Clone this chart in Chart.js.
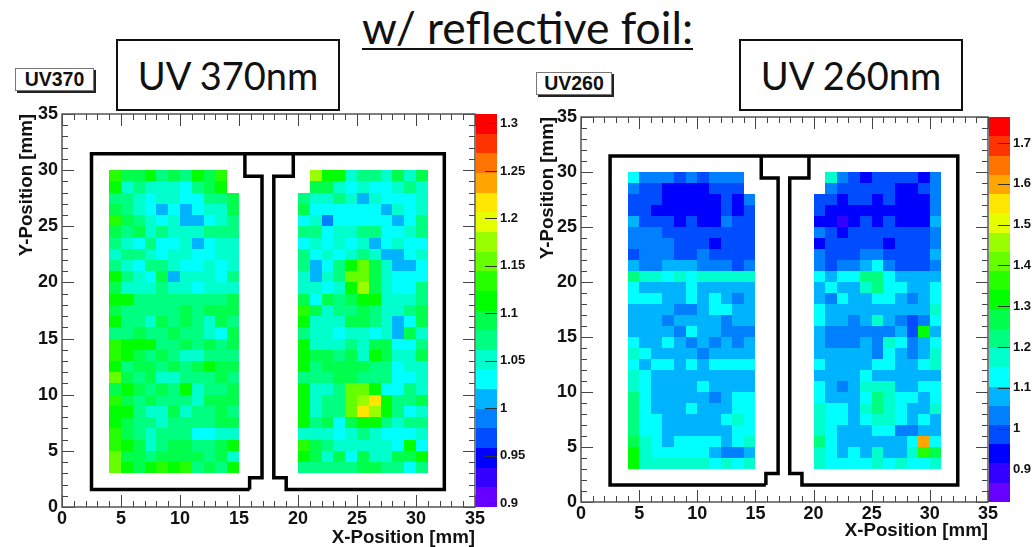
<!DOCTYPE html>
<html>
<head>
<meta charset="utf-8">
<script src="https://cdn.jsdelivr.net/npm/chart.js@4/dist/chart.umd.min.js"></script>
<style>
  html, body { margin: 0; padding: 0; background: #fff; }
  body { position: relative; width: 1033px; height: 547px; overflow: hidden; }
  canvas { position: absolute; }
  .main { position: absolute; left: 362px; top: 0; font: 44.4px Lato, sans-serif; color: #111; text-decoration: underline; text-decoration-thickness: 2px; text-underline-offset: 4px; white-space: nowrap; }
  .box { position: absolute; box-sizing: border-box; width: 224px; height: 72px; top: 39px; border: 2px solid #111; background: #fff; font: 38px/68px Lato, sans-serif; text-align: center; color: #111; }
  .tag { position: absolute; box-sizing: border-box; border: 1px solid #777; box-shadow: 2px 2px 0 #222; background: #fff; font: bold 19.5px/21px "Liberation Sans", sans-serif; text-align: center; color: #111; }
</style>
</head>
<body>
<canvas id="chart370" width="530" height="449" style="left:0;top:100px"></canvas>
<canvas id="chart260" width="503" height="444" style="left:530px;top:103px"></canvas>
<div class="main">w/ reflective foil:</div>
<div class="box" style="left:116px">UV 370nm</div>
<div class="box" style="left:739px">UV 260nm</div>
<div class="tag" style="left:15px;top:68px;width:79px;height:23px">UV370</div>
<div class="tag" style="left:536px;top:72px;width:76px;height:23px">UV260</div>
<script>
// ROOT palette, 20 contour bands, bottom to top
const palette = ['#6600ff','#3300ff','#0000ff','#004cff','#0080ff','#00b3ff','#00ffff','#00ffcc','#00ff80','#00ff4c',
  '#00ff00','#26ff00','#66ff00','#99ff00','#e6ff00','#ffe600','#ffa600','#ff7300','#ff3300','#ff0000'];

const ticks370 = [0.9, 0.95, 1, 1.05, 1.1, 1.15, 1.2, 1.25, 1.3];
const ticks260 = [0.9, 1, 1.1, 1.2, 1.3, 1.4, 1.5, 1.6, 1.7];

// detector outline in mm
const outlineX = [15.9, 2.5, 2.5, 32.4, 32.4, 19, 19, 17.95, 17.95, 19.6, 19.6, 15.5, 15.5, 16.95, 16.95, 15.9, 15.9];
const outlineY = [1.55, 1.55, 31.45, 31.45, 1.55, 1.55, 2.6, 2.6, 29.45, 29.45, 31.45, 31.45, 29.45, 29.45, 2.6, 2.6, 1.55];

// rows run from y=29 (top) down to y=3, columns x=4..14
const uv370Left = [
  [1.13,1.09,1.09,1.11,1.07,1.09,1.07,1.11,1.09,1.13,null],
  [1.11,1.05,1.07,1.05,1.05,1.05,1.03,1.07,1.09,1.11,null],
  [1.07,1.07,1.05,1.03,1.05,1.05,1.03,1.03,1.07,1.07,1.09],
  [1.09,1.07,1.05,1.03,1.01,1.03,1.01,1.03,1.05,1.05,1.09],
  [1.13,1.09,1.07,1.05,1.03,1.05,1.01,1.01,1.03,1.05,1.07],
  [1.09,1.07,1.09,1.05,1.07,1.05,1.05,1.05,1.07,1.07,1.07],
  [1.07,1.05,1.03,1.07,1.03,1.03,1.05,1.01,1.03,1.05,1.05],
  [1.05,1.07,1.07,1.05,1.03,1.05,1.05,1.03,1.03,1.05,1.05],
  [1.07,1.05,1.03,1.07,1.07,1.05,1.03,1.03,1.05,1.03,1.05],
  [1.11,1.07,1.05,1.03,1.09,1.01,1.05,1.05,1.05,1.03,1.07],
  [1.09,1.05,1.05,1.05,1.07,1.05,1.05,1.03,1.05,1.05,1.05],
  [1.11,1.11,1.07,1.07,1.07,1.07,1.07,1.07,1.07,1.07,1.09],
  [1.09,1.07,1.07,1.07,1.07,1.07,1.09,1.07,1.09,1.09,1.09],
  [1.11,1.07,1.07,1.05,1.09,1.07,1.09,1.07,1.05,1.09,1.07],
  [1.07,1.07,1.09,1.07,1.07,1.09,1.07,1.07,1.05,1.03,1.09],
  [1.13,1.11,1.11,1.11,1.07,1.07,1.09,1.07,1.09,1.07,1.09],
  [1.13,1.11,1.09,1.07,1.09,1.07,1.05,1.05,1.07,1.07,1.07],
  [1.11,1.07,1.09,1.09,1.07,1.09,1.07,1.09,1.11,1.09,1.09],
  [1.155,1.09,1.07,1.09,1.05,1.05,1.07,1.07,1.07,1.09,1.07],
  [1.09,1.11,1.09,1.07,1.09,1.07,1.11,1.05,1.07,1.07,1.09],
  [1.13,1.09,1.07,1.09,1.07,1.07,1.07,1.05,1.09,1.09,1.09],
  [1.11,1.11,1.07,1.05,1.05,1.09,1.05,1.07,1.07,1.09,1.07],
  [1.11,1.09,1.07,1.07,1.05,1.07,1.07,1.07,1.07,1.09,1.09],
  [1.13,1.09,1.07,1.05,1.07,1.07,1.07,1.03,1.03,1.05,1.05],
  [1.13,1.11,1.09,1.05,1.07,1.09,1.09,1.07,1.07,1.09,1.11],
  [1.155,1.09,1.09,1.07,1.09,1.09,1.09,1.09,1.07,1.09,1.05],
  [1.155,1.11,1.09,1.11,1.13,1.11,1.13,1.07,1.09,1.07,1.11]
];

// columns x=20..30
const uv370Right = [
  [null,1.175,1.11,1.11,1.05,1.07,1.07,1.05,1.09,1.05,1.09],
  [null,1.09,1.09,1.05,1.03,1.05,1.03,1.03,1.05,1.07,1.05],
  [1.07,1.05,1.05,1.07,1.05,1.01,1.05,1.03,1.03,1.03,1.05],
  [1.09,1.03,1.03,1.03,1.03,1.03,1.03,1.01,1.05,1.03,1.05],
  [1.03,1.05,0.99,1.03,1.03,1.03,1.03,1.03,1.01,1.03,1.07],
  [1.07,1.07,1.03,1.05,1.05,1.07,1.07,1.03,1.03,1.05,1.07],
  [1.03,1.05,1.03,1.05,1.03,1.05,1.01,1.03,1.05,1.03,1.03],
  [1.07,1.03,1.05,1.03,1.05,1.07,1.05,1.01,1.01,1.03,1.05],
  [1.07,1.01,1.03,1.07,1.11,1.155,1.09,1.05,1.01,1.01,1.03],
  [1.05,1.01,1.05,1.07,1.155,1.155,1.09,1.05,1.03,1.03,1.03],
  [1.05,1.05,1.03,1.05,1.11,1.175,1.09,1.05,1.03,1.03,1.07],
  [1.09,1.03,1.09,1.07,1.09,1.11,1.11,1.05,1.05,1.05,1.07],
  [1.13,1.09,1.05,1.07,1.07,1.09,1.07,1.05,1.05,1.07,1.09],
  [1.11,1.05,1.05,1.05,1.09,1.09,1.07,1.05,1.01,1.03,1.09],
  [1.07,1.05,1.05,1.03,1.05,1.05,1.03,1.05,1.01,1.09,1.05],
  [1.11,1.05,1.05,1.05,1.07,1.05,1.09,1.09,1.03,1.03,1.07],
  [1.11,1.09,1.09,1.07,1.09,1.05,1.11,1.09,1.05,1.05,1.09],
  [1.11,1.07,1.09,1.09,1.09,1.09,1.07,1.07,1.03,1.05,1.05],
  [1.07,1.07,1.07,1.09,1.09,1.07,1.07,1.07,1.03,1.03,1.05],
  [1.11,1.05,1.05,1.07,1.155,1.155,1.11,1.03,1.03,1.07,1.05],
  [1.11,1.05,1.07,1.07,1.155,1.175,1.22,1.11,1.07,1.07,1.09],
  [1.11,1.05,1.07,1.07,1.155,1.22,1.175,1.11,1.07,1.03,1.05],
  [1.11,1.07,1.09,1.03,1.09,1.11,1.11,1.07,1.05,1.07,1.07],
  [1.05,1.05,1.05,1.03,1.05,1.07,1.05,1.03,1.03,1.03,1.05],
  [1.13,1.09,1.07,1.05,1.05,1.05,1.05,1.05,1.03,1.11,1.03],
  [1.11,1.09,1.05,1.09,1.03,1.09,1.05,1.05,1.09,1.09,1.11],
  [1.07,1.07,1.07,1.07,1.07,1.09,1.09,1.07,1.07,1.03,1.07]
];

const uv260Left = [
  [1.13,1.03,1.03,1.03,0.98,1.03,0.98,1.03,1.03,1.03,null],
  [1.03,0.98,0.98,0.94,0.94,0.94,0.94,0.98,0.98,0.98,null],
  [0.98,0.98,0.98,0.94,0.94,0.94,0.94,0.94,0.98,0.94,1.03],
  [0.98,0.98,0.94,0.94,0.94,0.94,0.94,0.94,0.98,0.94,0.98],
  [1.08,0.98,0.98,0.98,0.94,0.98,0.94,0.94,1.03,0.98,0.98],
  [1.03,1.03,1.03,0.98,0.98,0.98,0.98,0.98,0.98,0.98,0.98],
  [1.03,1.03,1.03,1.03,0.98,0.98,0.98,0.94,0.98,0.98,0.98],
  [0.98,1.03,1.03,1.03,0.98,0.98,1.03,0.98,0.98,0.98,0.98],
  [1.08,1.03,1.03,1.08,1.08,1.08,1.03,1.03,1.03,0.98,1.03],
  [1.22,1.17,1.17,1.13,1.17,1.13,1.17,1.17,1.17,1.17,1.17],
  [1.13,1.08,1.08,1.08,1.08,1.13,1.08,1.08,1.08,1.08,1.08],
  [1.13,1.13,1.13,1.08,1.08,1.13,1.08,1.13,1.08,1.03,1.08],
  [1.08,1.08,1.08,1.08,1.03,1.03,1.08,1.13,1.13,1.08,1.08],
  [1.08,1.08,1.08,1.03,1.08,1.08,1.08,1.08,1.03,1.08,1.08],
  [1.08,1.08,1.08,1.08,1.03,1.13,1.08,1.08,1.03,1.03,1.03],
  [1.13,1.08,1.08,1.13,1.08,1.03,1.08,1.03,1.08,1.03,1.08],
  [1.17,1.13,1.08,1.08,1.08,1.08,1.03,1.08,1.08,1.08,1.08],
  [1.13,1.08,1.13,1.13,1.08,1.13,1.08,1.13,1.13,1.13,1.13],
  [1.17,1.13,1.08,1.08,1.08,1.08,1.08,1.08,1.08,1.08,1.08],
  [1.17,1.13,1.08,1.08,1.08,1.08,1.13,1.08,1.08,1.08,1.08],
  [1.22,1.13,1.08,1.08,1.08,1.08,1.08,1.03,1.08,1.13,1.13],
  [1.22,1.13,1.08,1.08,1.08,1.13,1.08,1.08,1.08,1.13,1.13],
  [1.22,1.13,1.13,1.08,1.08,1.08,1.08,1.08,1.13,1.17,1.13],
  [1.22,1.13,1.13,1.08,1.08,1.08,1.08,1.08,1.08,1.13,1.13],
  [1.27,1.17,1.13,1.08,1.13,1.13,1.13,1.13,1.08,1.13,1.17],
  [1.31,1.17,1.13,1.13,1.13,1.13,1.13,1.08,1.03,1.03,1.08],
  [1.31,1.17,1.17,1.17,1.17,1.17,1.17,1.13,1.17,1.13,1.17]
];

const uv260Right = [
  [null,1.17,1.03,0.98,0.94,0.98,0.98,0.98,0.98,0.94,1.03],
  [null,1.03,0.98,0.98,0.98,0.98,0.98,0.94,0.94,0.98,1.03],
  [0.98,0.98,0.94,0.98,0.98,0.94,0.98,0.94,0.94,0.94,1.03],
  [0.98,0.94,0.94,0.94,0.94,0.94,0.94,0.94,0.94,0.94,1.03],
  [0.94,0.94,0.89,0.94,0.98,0.94,0.98,0.94,0.94,0.94,1.08],
  [1.03,0.98,0.94,0.98,0.98,0.98,0.98,0.98,0.98,0.98,1.03],
  [0.94,0.98,0.98,0.98,0.98,0.98,0.94,0.98,0.98,0.98,1.03],
  [1.03,0.98,0.98,0.98,1.03,1.03,0.98,0.98,0.98,0.98,1.08],
  [1.03,0.98,1.03,1.03,1.08,1.13,1.03,0.98,0.98,0.98,1.03],
  [1.13,1.08,1.13,1.13,1.22,1.22,1.13,1.08,1.08,1.08,1.08],
  [1.08,1.13,1.08,1.08,1.17,1.22,1.13,1.13,1.08,1.08,1.13],
  [1.08,1.03,1.13,1.08,1.08,1.13,1.13,1.08,1.03,1.08,1.13],
  [1.13,1.08,1.08,1.08,1.08,1.08,1.08,1.08,1.08,1.08,1.17],
  [1.13,1.08,1.08,1.03,1.08,1.17,1.08,1.03,0.98,1.03,1.13],
  [1.08,1.03,1.03,1.03,1.03,1.03,1.03,1.08,0.98,1.31,1.08],
  [1.08,1.03,1.03,1.03,1.08,1.03,1.17,1.13,1.03,1.08,1.13],
  [1.08,1.08,1.08,1.08,1.08,1.03,1.13,1.08,1.03,1.08,1.17],
  [1.13,1.08,1.08,1.08,1.08,1.13,1.13,1.08,1.08,1.13,1.17],
  [1.08,1.08,1.08,1.08,1.13,1.08,1.08,1.08,1.08,1.08,1.08],
  [1.13,1.08,1.03,1.08,1.17,1.17,1.17,1.08,1.08,1.13,1.13],
  [1.13,1.08,1.08,1.08,1.13,1.22,1.17,1.13,1.13,1.08,1.13],
  [1.17,1.13,1.13,1.08,1.17,1.22,1.17,1.13,1.08,1.08,1.17],
  [1.17,1.13,1.13,1.08,1.13,1.17,1.17,1.13,1.08,1.13,1.08],
  [1.17,1.13,1.08,1.08,1.08,1.13,1.13,1.03,1.03,1.08,1.08],
  [1.22,1.13,1.08,1.08,1.08,1.08,1.08,1.08,1.13,1.6,1.13],
  [1.17,1.13,1.08,1.13,1.08,1.17,1.08,1.08,1.17,1.36,1.27],
  [1.17,1.13,1.13,1.13,1.13,1.17,1.13,1.17,1.13,1.13,1.17]
];

function toCells(rows, firstX) {
  const cells = [];
  rows.forEach((row, r) => {
    row.forEach((z, c) => {
      if (z !== null) cells.push({ x: firstX + c, y: 29 - r, z: z });
    });
  });
  return cells;
}

// no label overhang in the layout, the plot area has to land on exact pixels
function noPadding(s) {
  s.paddingTop = 0;
  s.paddingBottom = 0;
  s.paddingLeft = 0;
  s.paddingRight = 0;
}

// cells, colour bar, frame and the inward ROOT ticks
const rootPlot = {
  id: 'rootPlot',
  beforeDatasetsDraw(chart) {
    const { ctx, scales: { x, y, z } } = chart;
    const zMin = z.min, band = (z.max - z.min) / palette.length;
    chart.data.datasets[0].data.forEach((cell) => {
      const level = Math.min(palette.length - 1, Math.floor((cell.z - zMin) / band));
      const x0 = Math.round(x.getPixelForValue(cell.x));
      const x1 = Math.round(x.getPixelForValue(cell.x + 1));
      const y0 = Math.round(y.getPixelForValue(cell.y + 1));
      const y1 = Math.round(y.getPixelForValue(cell.y));
      ctx.fillStyle = palette[level];
      ctx.fillRect(x0, y0, x1 - x0, y1 - y0);
    });
    // colour bar
    const barLeft = x.right + 1, barWidth = 21;
    palette.forEach((color, i) => {
      const top = Math.round(z.getPixelForValue(zMin + band * (i + 1)));
      const bottom = Math.round(z.getPixelForValue(zMin + band * i));
      ctx.fillStyle = color;
      ctx.fillRect(barLeft, top, barWidth, bottom - top);
    });
    ctx.strokeStyle = '#333';
    ctx.lineWidth = 1;
    ctx.beginPath();
    z.ticks.forEach((t) => {
      const py = Math.round(z.getPixelForValue(t.value)) + 0.5;
      ctx.moveTo(barLeft + barWidth, py);
      ctx.lineTo(barLeft + barWidth - 12, py);
    });
    ctx.stroke();
  },
  afterDatasetsDraw(chart) {
    const { ctx, chartArea: a, scales: { x, y } } = chart;
    ctx.strokeStyle = '#444';
    ctx.lineWidth = 1;
    ctx.beginPath();
    x.ticks.forEach((t) => {
      const px = Math.round(x.getPixelForValue(t.value)) + 0.5;
      const len = t.value % 5 === 0 ? 12 : 6;
      ctx.moveTo(px, a.top); ctx.lineTo(px, a.top + len);
      ctx.moveTo(px, a.bottom); ctx.lineTo(px, a.bottom - len);
    });
    y.ticks.forEach((t) => {
      const py = Math.round(y.getPixelForValue(t.value)) + 0.5;
      const len = t.value % 5 === 0 ? 12 : 6;
      ctx.moveTo(a.left, py); ctx.lineTo(a.left + len, py);
      ctx.moveTo(a.right, py); ctx.lineTo(a.right - len, py);
    });
    ctx.stroke();
    ctx.strokeStyle = '#555';
    ctx.lineWidth = 1.5;
    ctx.strokeRect(a.left, a.top, a.right - a.left, a.bottom - a.top);
  }
};

function makePanel(id, left, right, zMin, zMax, zTicks, opts) {
  const labelFont = { family: '"Liberation Sans", Arial, sans-serif', weight: 'bold', size: 18 };
  const titleFont = { family: labelFont.family, weight: 'bold', size: 18.7 };
  const outline = outlineX.map((v, i) => ({ x: v, y: outlineY[i] }));
  const noGrid = { display: false, drawTicks: false };
  return new Chart(document.getElementById(id), {
    type: 'scatter',
    data: {
      datasets: [
        { data: toCells(left, 4).concat(toCells(right, opts.rightStart)), pointRadius: 0 },
        { data: outline, showLine: true, borderColor: '#000', borderWidth: 3.5, pointRadius: 0, borderJoinStyle: 'miter', tension: 0 }
      ]
    },
    options: {
      responsive: false,
      animation: false,
      events: [],
      layout: { padding: { top: opts.top, left: 0, right: 0, bottom: 0 } },
      plugins: { legend: { display: false }, tooltip: { enabled: false } },
      scales: {
        x: {
          type: 'linear', min: 0, max: 35, position: 'bottom',
          afterFit: (s) => { s.height = opts.xHeight; noPadding(s); },
          grid: noGrid, border: { display: false },
          ticks: { stepSize: 1, autoSkip: false, maxRotation: 0, color: '#111', font: labelFont, padding: 1,
            callback: (v) => (v % 5 === 0 ? v : '') },
          title: { display: true, text: 'X-Position [mm]', align: 'end', color: '#111', font: titleFont, padding: { top: 0, bottom: opts.xTitlePad } }
        },
        y: {
          type: 'linear', min: 0, max: 35, position: 'left',
          afterFit: (s) => { s.width = opts.yWidth; noPadding(s); },
          grid: noGrid, border: { display: false },
          ticks: { stepSize: 1, autoSkip: false, color: '#111', font: labelFont, padding: 4,
            callback: (v) => (v % 5 === 0 ? v : '') },
          title: { display: true, text: 'Y-Position [mm]', align: 'end', color: '#111', font: titleFont, padding: { top: opts.titlePad, bottom: 0 } }
        },
        z: {
          type: 'linear', min: zMin, max: zMax, position: 'right',
          afterFit: (s) => { s.width = opts.zWidth; noPadding(s); },
          afterBuildTicks: (s) => { s.ticks = zTicks.map((v) => ({ value: v })); },
          grid: noGrid, border: { display: false },
          ticks: { color: '#111', font: { family: labelFont.family, weight: 'bold', size: 13 }, padding: 25,
            callback: (v) => String(v) }
        }
      }
    },
    plugins: [rootPlot]
  });
}

makePanel('chart370', uv370Left, uv370Right, 0.896, 1.31, ticks370,
  { top: 14, xHeight: 42, yWidth: 62, zWidth: 55, rightStart: 20, titlePad: 16, xTitlePad: 0 });
makePanel('chart260', uv260Left, uv260Right, 0.82, 1.764, ticks260,
  { top: 14, xHeight: 45, yWidth: 51, zWidth: 45, rightStart: 20, titlePad: 7, xTitlePad: 5 });
</script>
</body>
</html>
